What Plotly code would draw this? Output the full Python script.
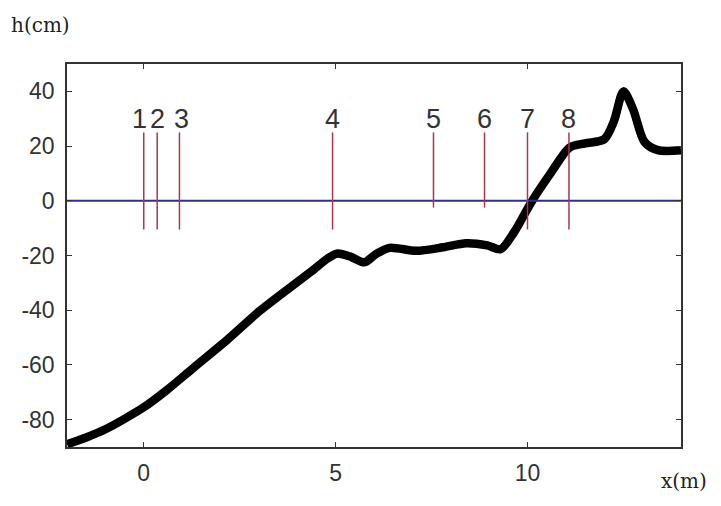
import plotly.graph_objects as go

# Bathymetry profile h(x)
profile_x = [-2, -1.5, -1, -0.5, 0, 0.6, 1.3, 2.2, 3.0, 3.5, 4.35, 4.8, 5.05, 5.4, 5.75, 6.05,
             6.4, 7.1, 7.8, 8.4, 8.95, 9.3, 9.65, 10.1, 10.6, 11.1, 11.5, 12.0, 12.25, 12.5,
             12.75, 13.05, 13.4, 14]
profile_y = [-89, -86.5, -83.5, -79.7, -75.5, -69.2, -61, -50.5, -40.5, -35, -26, -21, -19.3,
             -20.5, -22.5, -19.5, -17.2, -18.3, -17, -15.5, -16.3, -17.7, -11.5, -0.5, 10,
             19.5, 21, 22.5, 29, 40, 33.5, 21.5, 18.5, 18.5]

# Still water level
swl_x = [-2, 14]
swl_y = [0, 0]

# Gauges
gauge_labels = ["1", "2", "3", "4", "5", "6", "7", "8"]
gauge_x = [0, 0.35, 0.93, 4.92, 7.55, 8.88, 10.0, 11.08]
gauge_top = [25, 25, 25, 25, 25, 25, 25, 25]
gauge_bottom = [-10.5, -10.5, -10.5, -10.5, -2.5, -2.5, -10.5, -10.5]
label_xshift = [-4, 0, 2, 0, 0, 0, 0, 0]

x_range = [-2, 14]
y_range = [-90, 50]
x_ticks = [0, 5, 10]
y_ticks = [-80, -60, -40, -20, 0, 20, 40]

fig = go.Figure()

fig.add_trace(go.Scatter(x=profile_x, y=profile_y, mode="lines",
                         line=dict(color="black", width=8.5, shape="spline", smoothing=0.8),
                         hoverinfo="skip", showlegend=False))

fig.add_trace(go.Scatter(x=swl_x, y=swl_y, mode="lines",
                         line=dict(color="#2e2e8c", width=2),
                         hoverinfo="skip", showlegend=False))

for gx, gt, gb, gl, sh in zip(gauge_x, gauge_top, gauge_bottom, gauge_labels, label_xshift):
    fig.add_trace(go.Scatter(x=[gx, gx], y=[gb, gt], mode="lines",
                             line=dict(color="#a8384a", width=1.5),
                             hoverinfo="skip", showlegend=False))
    fig.add_annotation(x=gx, y=gt, text=gl, showarrow=False, xanchor="center",
                       yanchor="bottom", yshift=-4, xshift=sh,
                       font=dict(family="Liberation Sans, Arial", size=27, color="#333333"))

axis_common = dict(showgrid=False, zeroline=False, showline=True, linecolor="#333333",
                   linewidth=1.5, mirror="ticks", ticks="inside", ticklen=5,
                   tickcolor="#333333", tickwidth=1.2,
                   tickfont=dict(family="Liberation Sans, Arial", size=23, color="#333333"))

fig.update_xaxes(range=x_range, tickvals=x_ticks, ticktext=[str(v) for v in x_ticks],
                 ticklabelstandoff=5, **axis_common)
fig.update_yaxes(range=y_range, tickvals=y_ticks, ticktext=[str(v) for v in y_ticks],
                 ticklabelstandoff=6, **axis_common)

fig.add_annotation(xref="paper", yref="paper", x=-0.095, y=1.065, xanchor="left",
                   yanchor="bottom", text="h(cm)", showarrow=False,
                   font=dict(family="DejaVu Serif, Liberation Serif", size=20, color="#222222"))
fig.add_annotation(xref="paper", yref="paper", x=1.046, y=-0.09, xanchor="right",
                   yanchor="middle", text="x(m)", showarrow=False,
                   font=dict(family="DejaVu Serif, Liberation Serif", size=20, color="#222222"))

fig.update_layout(width=713, height=490, margin=dict(l=59, r=40, t=56, b=48),
                  paper_bgcolor="white", plot_bgcolor="white", showlegend=False)

fig.write_html("out.html")
